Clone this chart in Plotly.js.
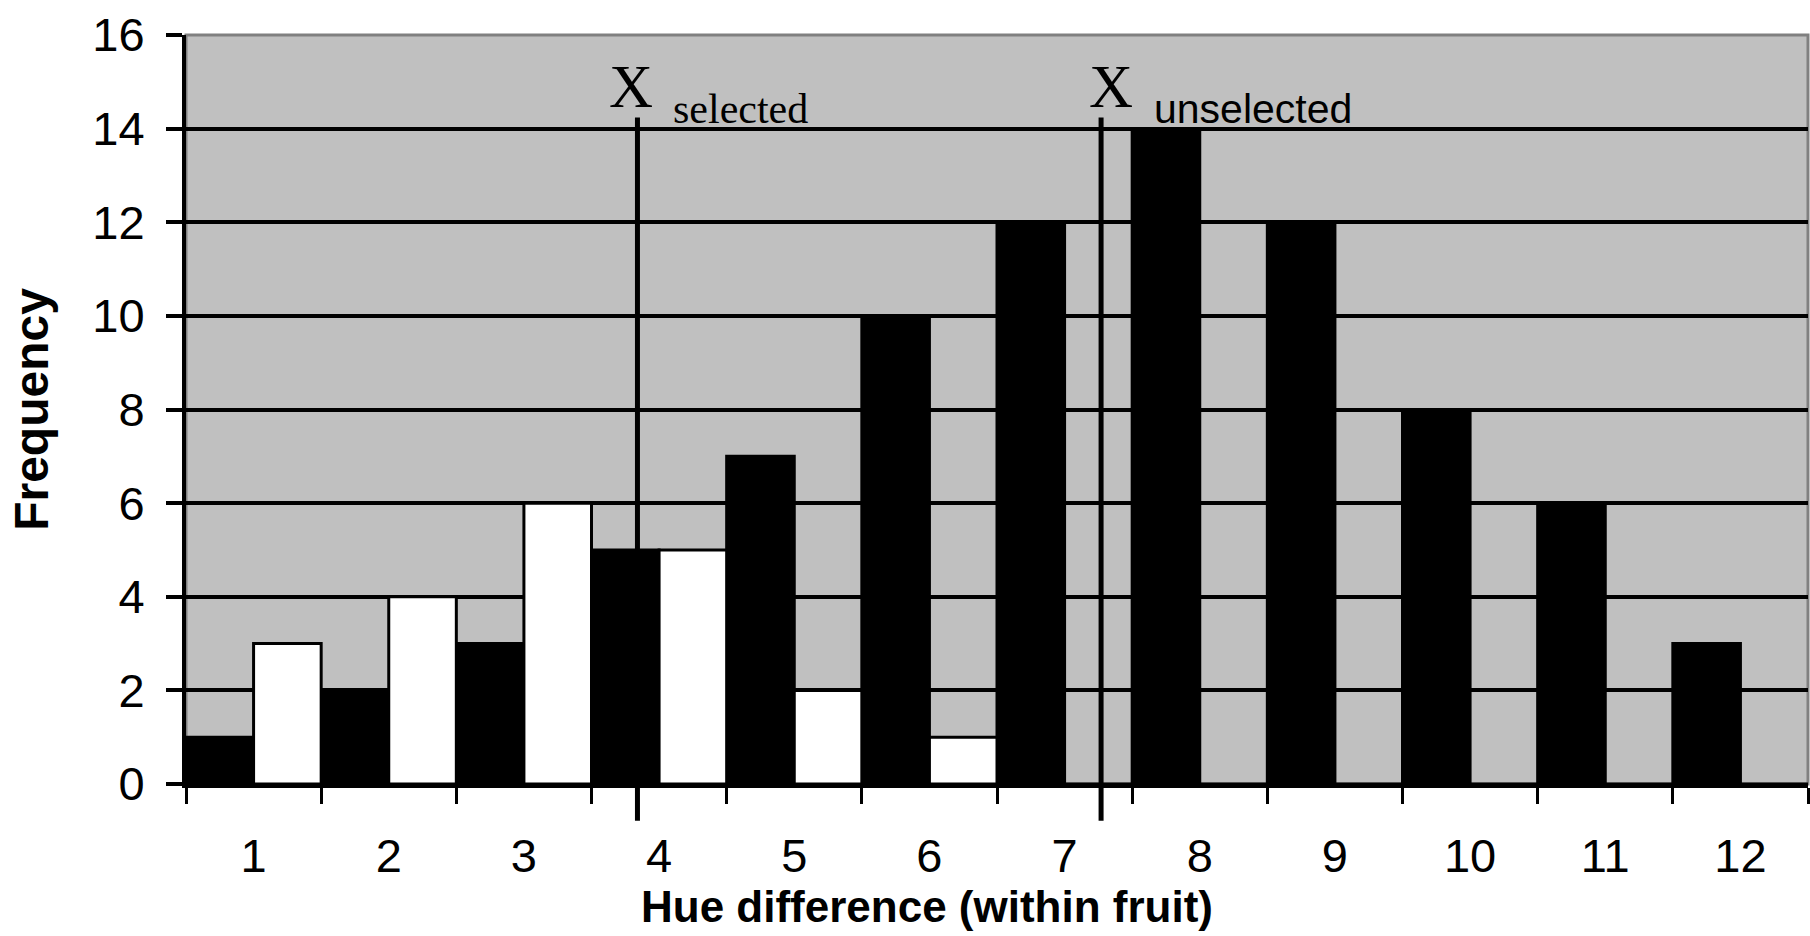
<!DOCTYPE html>
<html>
<head>
<meta charset="utf-8">
<script src="https://cdn.plot.ly/plotly-3.0.1.min.js"></script>
<style>
  html, body { margin: 0; padding: 0; background: #ffffff; }
  #chart { width: 1810px; height: 936px; }
</style>
</head>
<body>
<div id="chart"></div>
<script>
// Categories: hue difference (within fruit)
const categories = ["1", "2", "3", "4", "5", "6", "7", "8", "9", "10", "11", "12"];
// Black bars (unselected fruit) frequency
const unselectedFreq = [1, 2, 3, 5, 7, 10, 12, 14, 12, 8, 6, 3];
// White bars (selected fruit) frequency
const selectedFreq = [3, 4, 6, 5, 2, 1, 0, 0, 0, 0, 0, 0];
// Mean markers on the 1..12 hue scale
const meanSelected = 3.84;
const meanUnselected = 7.27;
const yTicks = [0, 2, 4, 6, 8, 10, 12, 14, 16];

const sans = "Liberation Sans, Arial, sans-serif";
const serif = "Liberation Serif, Times New Roman, serif";

const traces = [
  {
    type: "bar", name: "Unselected", x: categories, y: unselectedFreq,
    marker: { color: "#000000", line: { color: "#000000", width: 3 } },
    hoverinfo: "x+y"
  },
  {
    type: "bar", name: "Selected", x: categories, y: selectedFreq,
    marker: { color: "#ffffff", line: { color: "#000000", width: 3 } },
    hoverinfo: "x+y"
  }
];

// category index of a value on the 1..12 scale
const ci = v => v - 1;

const layout = {
  width: 1810, height: 936,
  margin: { l: 186, r: 2, t: 35, b: 152, pad: 0 },
  paper_bgcolor: "#ffffff",
  plot_bgcolor: "#c0c0c0",
  showlegend: false,
  barmode: "group",
  bargap: 0, bargroupgap: 0,
  font: { family: sans, color: "#000000" },
  xaxis: {
    type: "category",
    range: [-0.5, 11.5],
    tickson: "boundaries",
    ticks: "outside", ticklen: 16, tickwidth: 3, tickcolor: "#000000",
    showline: true, linecolor: "#000000", linewidth: 4,
    showgrid: false, zeroline: false,
    tickfont: { family: sans, size: 47, color: "#000000" },
    ticklabelstandoff: 28,
    fixedrange: true
  },
  yaxis: {
    range: [0, 16],
    tickvals: yTicks,
    ticktext: yTicks.map(String),
    ticks: "outside", ticklen: 16, tickwidth: 4, tickcolor: "#000000",
    showline: true, linecolor: "#000000", linewidth: 4,
    showgrid: true, gridcolor: "#000000", gridwidth: 4,
    zeroline: false,
    tickfont: { family: sans, size: 47, color: "#000000" },
    ticklabelstandoff: 12,
    title: { text: "<b>Frequency</b>", font: { family: sans, size: 48, color: "#000000" }, standoff: 30 },
    fixedrange: true
  },
  shapes: [
    { type: "rect", xref: "paper", yref: "paper", x0: 0, x1: 1, y0: 0, y1: 1,
      line: { color: "#808080", width: 3 }, fillcolor: "rgba(0,0,0,0)", layer: "below" },
    { type: "line", xref: "x", yref: "paper", x0: ci(meanSelected), x1: ci(meanSelected),
      y0: -0.049, y1: 0.89, line: { color: "#000000", width: 5 } },
    { type: "line", xref: "x", yref: "paper", x0: ci(meanUnselected), x1: ci(meanUnselected),
      y0: -0.049, y1: 0.89, line: { color: "#000000", width: 5 } }
  ],
  annotations: [
    { text: "X", xref: "x", yref: "y", x: 2.79, y: 14.89, xanchor: "center", yanchor: "middle",
      showarrow: false, font: { family: serif, size: 61, color: "#000000" } },
    { text: "selected", xref: "x", yref: "y", x: 3.09, y: 14.41, xanchor: "left", yanchor: "middle",
      showarrow: false, font: { family: serif, size: 42, color: "#000000" } },
    { text: "X", xref: "x", yref: "y", x: 6.342, y: 14.89, xanchor: "center", yanchor: "middle",
      showarrow: false, font: { family: serif, size: 61, color: "#000000" } },
    { text: "unselected", xref: "x", yref: "y", x: 6.646, y: 14.42, xanchor: "left", yanchor: "middle",
      showarrow: false, font: { family: sans, size: 41, color: "#000000" } },
    { text: "<b>Hue difference (within fruit)</b>", xref: "paper", yref: "paper", x: 0.457, y: -0.163,
      xanchor: "center", yanchor: "middle", showarrow: false,
      font: { family: sans, size: 44, color: "#000000" } }
  ]
};

Plotly.newPlot("chart", traces, layout, { displayModeBar: false, staticPlot: true });
</script>
</body>
</html>
